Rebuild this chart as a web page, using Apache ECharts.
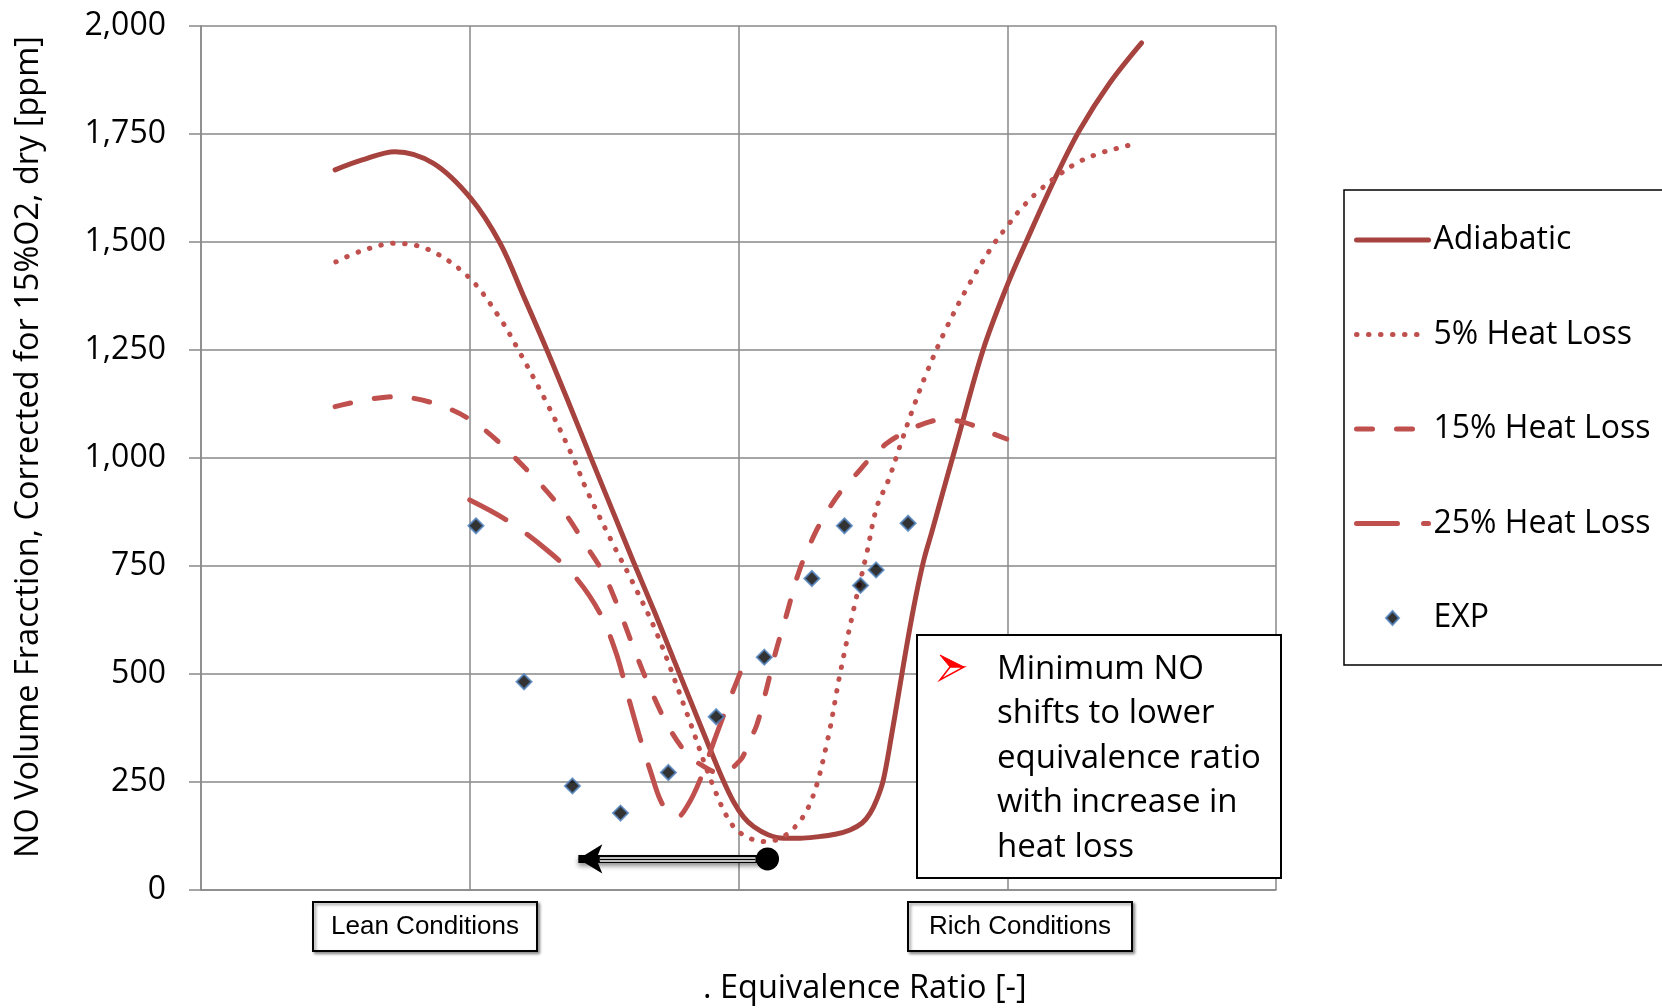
<!DOCTYPE html>
<html>
<head>
<meta charset="utf-8">
<title>NO vs Equivalence Ratio</title>
<script src="https://cdn.jsdelivr.net/npm/echarts@6/dist/echarts.min.js"></script>
<style>
    html, body { margin: 0; padding: 0; background: #fff; }
    #main { width: 1662px; height: 1008px; }
</style>
</head>
<body>
<div id="main"></div>
<script type="text/javascript">
    // values, x in grid units (4 columns), y in ppm
    var adiabatic = [[0.499, 1667], [0.60, 1690], [0.722, 1709], [0.865, 1682], [1.004, 1601], [1.113, 1497],
        [1.20, 1375], [1.287, 1250], [1.37, 1125], [1.448, 1005], [1.53, 880], [1.609, 760], [1.69, 640],
        [1.758, 535], [1.82, 440], [1.882, 345], [1.94, 258], [1.981, 205], [2.02, 168], [2.056, 147],
        [2.11, 128], [2.167, 120], [2.23, 120], [2.291, 123], [2.36, 129], [2.415, 139], [2.46, 155],
        [2.49, 178], [2.515, 210], [2.539, 255], [2.57, 360], [2.60, 470], [2.63, 580], [2.66, 680],
        [2.69, 765], [2.72, 830], [2.76, 920], [2.81, 1030], [2.91, 1250], [3.0, 1400], [3.07, 1500],
        [3.18, 1650], [3.27, 1760], [3.38, 1867], [3.50, 1961]];
    var loss5 = [[0.502, 1454], [0.60, 1480], [0.722, 1497], [0.852, 1481], [1.0, 1416], [1.113, 1323],
        [1.181, 1250], [1.287, 1127], [1.386, 999], [1.435, 926], [1.541, 791], [1.60, 720], [1.696, 594],
        [1.808, 409], [1.907, 239], [1.981, 147], [2.056, 116], [2.105, 112], [2.192, 135], [2.267, 201],
        [2.329, 340], [2.378, 501], [2.428, 648], [2.477, 779], [2.515, 887], [2.558, 949], [2.601, 1028],
        [2.645, 1107], [2.694, 1188], [2.766, 1291], [2.85, 1393], [2.943, 1489], [2.998, 1535],
        [3.054, 1579], [3.119, 1619], [3.191, 1655], [3.268, 1686], [3.352, 1707], [3.441, 1722], [3.485, 1730]];
    var loss15 = [[0.499, 1119], [0.722, 1142], [0.865, 1127], [1.004, 1088], [1.138, 1019], [1.336, 887],
        [1.435, 795], [1.50, 730], [1.56, 642], [1.615, 552], [1.675, 461], [1.742, 375], [1.808, 316],
        [1.863, 289], [1.932, 270], [2.006, 300], [2.037, 340], [2.068, 382], [2.10, 455], [2.137, 548],
        [2.18, 640], [2.224, 735], [2.285, 826], [2.341, 887], [2.385, 926], [2.44, 964], [2.49, 999],
        [2.552, 1034], [2.614, 1058], [2.688, 1079], [2.759, 1089], [2.843, 1082], [2.911, 1065], [2.998, 1044]];
    var loss25 = [[1.0, 903], [1.138, 856], [1.287, 787], [1.392, 725], [1.485, 640], [1.545, 548],
        [1.59, 447], [1.634, 351], [1.675, 270], [1.708, 210], [1.74, 178], [1.77, 168], [1.81, 195],
        [1.857, 255], [1.912, 350], [1.969, 444], [2.006, 502]];
    var expX = [1.023, 1.202, 1.382, 1.561, 1.739, 1.917, 2.096, 2.273, 2.394, 2.454, 2.512, 2.631];
    var expY = [843, 482, 241, 178, 272, 401, 539, 721, 843, 705, 741, 849];

    var seriesNames = ['Adiabatic', '5% Heat Loss', '15% Heat Loss', '25% Heat Loss', 'EXP'];
    var yTicks = [0, 250, 500, 750, 1000, 1250, 1500, 1750, 2000];

    // the "minimum shifts" arrow, in data units
    var arrowTail = [2.108, 72];
    var arrowTip = [1.404, 72];

    var FONT = '"Open Sans", "DejaVu Sans", sans-serif';
    var GRID_GRAY = '#898989';

    var myChart = echarts.init(document.getElementById('main'));

    var expData = expX.map(function (x, i) { return [x, expY[i]]; });

    function lineSeries(name, data, color, type) {
        return {
            name: name,
            type: 'line',
            data: data,
            symbol: 'none',
            smooth: 0.35,
            z: 3,
            lineStyle: { color: color, width: 5, type: type, cap: 'round' },
            itemStyle: { color: color }
        };
    }

    // line entries: hide the forced circle symbol; EXP: a small diamond centred in the icon box
    var legendData = seriesNames.map(function (n, i) {
        if (i < 4) return { name: n, itemStyle: { opacity: 0 } };
        return { name: n, icon: 'path://M0,7L0,7M36,0L42.5,7L36,14L29.5,7ZM72,7L72,7' };
    });

    var option = {
        animation: false,
        backgroundColor: '#fff',
        grid: { left: 201, right: 386, top: 26, bottom: 118 },
        legend: {
            orient: 'vertical',
            left: 1344,
            top: 190,
            padding: [34, 16, 31, 10],
            itemWidth: 72,
            itemHeight: 14,
            itemGap: 62.5,
            borderColor: '#000',
            borderWidth: 1.5,
            data: legendData,
            lineStyle: { width: 5 },
            textStyle: { fontFamily: FONT, fontSize: 32, color: '#000', lineHeight: 30 }
        },
        xAxis: {
            type: 'value',
            min: 0,
            max: 4,
            interval: 1,
            axisLine: { show: true, lineStyle: { color: GRID_GRAY, width: 1.5 } },
            axisTick: { show: false },
            axisLabel: { show: false },
            splitLine: { show: true, lineStyle: { color: GRID_GRAY, width: 1.5 } }
        },
        yAxis: {
            type: 'value',
            min: yTicks[0],
            max: yTicks[yTicks.length - 1],
            interval: 250,
            axisLine: { show: true, lineStyle: { color: GRID_GRAY, width: 1.5 } },
            axisTick: { show: true, length: 12, lineStyle: { color: GRID_GRAY, width: 1.5 } },
            axisLabel: {
                margin: 35,
                fontFamily: FONT,
                fontSize: 32,
                color: '#000',
                formatter: function (v) { return v.toLocaleString('en-US'); }
            },
            splitLine: { show: true, lineStyle: { color: GRID_GRAY, width: 1.5 } }
        },
        series: [
            lineSeries(seriesNames[0], adiabatic, '#A6433F', 'solid'),
            lineSeries(seriesNames[1], loss5, '#C0504D', [0.5, 11.5]),
            lineSeries(seriesNames[2], loss15, '#C0504D', [16, 24]),
            lineSeries(seriesNames[3], loss25, '#C0504D', [41, 26]),
            {
                name: seriesNames[4],
                type: 'scatter',
                data: expData,
                symbol: 'diamond',
                symbolSize: 15,
                z: 4,
                itemStyle: { color: '#000', borderColor: '#4F81BD', borderWidth: 2 },
                markLine: {
                    silent: true,
                    animation: false,
                    label: { show: false },
                    emphasis: { disabled: true },
                    data: [
                        [
                            { coord: arrowTail, symbol: 'circle', symbolSize: 23,
                              lineStyle: { color: '#000', width: 8, type: 'solid',
                                  shadowBlur: 5, shadowColor: 'rgba(0,0,0,0.45)', shadowOffsetY: 3 } },
                            { coord: arrowTip, symbol: 'arrow', symbolSize: [22, 24] }
                        ],
                        [
                            { coord: [arrowTail[0] - 0.045, arrowTail[1]], symbol: 'none',
                              lineStyle: { color: '#fff', width: 4.5, type: 'solid' } },
                            { coord: [arrowTip[0] + 0.08, arrowTip[1]], symbol: 'none' }
                        ],
                        [
                            { coord: [arrowTail[0] - 0.045, arrowTail[1]], symbol: 'none',
                              lineStyle: { color: '#000', width: 1.3, type: 'solid' } },
                            { coord: [arrowTip[0] + 0.08, arrowTip[1]], symbol: 'none' }
                        ]
                    ]
                }
            }
        ],
        graphic: [
            // y axis title
            {
                type: 'text', z: 101, x: 29, y: 447, rotation: Math.PI / 2,
                style: { text: 'NO Volume Fracction, Corrected for 15%O2, dry [ppm]', fill: '#000',
                    font: '32.5px ' + FONT, align: 'center', verticalAlign: 'middle' }
            },
            // Lean / Rich boxes under the axis
            {
                type: 'rect', z: 100,
                shape: { x: 313, y: 902, width: 224, height: 49 },
                style: { fill: '#fff', stroke: '#000', lineWidth: 2,
                    shadowBlur: 3, shadowColor: 'rgba(0,0,0,0.4)', shadowOffsetX: 2, shadowOffsetY: 2 }
            },
            {
                type: 'text', z: 101, x: 425, y: 927,
                style: { text: 'Lean Conditions', fill: '#000', font: '26px "Liberation Sans", Arial, sans-serif',
                    align: 'center', verticalAlign: 'middle' }
            },
            {
                type: 'rect', z: 100,
                shape: { x: 908, y: 902, width: 224, height: 49 },
                style: { fill: '#fff', stroke: '#000', lineWidth: 2,
                    shadowBlur: 3, shadowColor: 'rgba(0,0,0,0.4)', shadowOffsetX: 2, shadowOffsetY: 2 }
            },
            {
                type: 'text', z: 101, x: 1020, y: 927,
                style: { text: 'Rich Conditions', fill: '#000', font: '26px "Liberation Sans", Arial, sans-serif',
                    align: 'center', verticalAlign: 'middle' }
            },
            // x axis title
            {
                type: 'text', z: 101, x: 703, y: 989,
                style: { text: '. Equivalence Ratio [-]', fill: '#000', font: '32.5px ' + FONT,
                    align: 'left', verticalAlign: 'middle' }
            },
            // note box
            {
                type: 'rect', z: 100,
                shape: { x: 917, y: 635, width: 364, height: 243 },
                style: { fill: '#fff', stroke: '#000', lineWidth: 2 }
            },
            {
                type: 'polygon', z: 101,
                shape: { points: [[940, 655], [964, 667], [950, 667]] },
                style: { fill: '#FF0000', stroke: '#FF0000', lineWidth: 1 }
            },
            {
                type: 'polygon', z: 101,
                shape: { points: [[950, 667], [964, 667], [940, 680]] },
                style: { fill: '#fff', stroke: '#FF0000', lineWidth: 1.5 }
            },
            {
                type: 'text', z: 101, x: 997, y: 647,
                style: {
                    text: 'Minimum NO\nshifts to lower\nequivalence ratio\nwith increase in\nheat loss',
                    fill: '#000', font: '33px ' + FONT, lineHeight: 44.5,
                    align: 'left', verticalAlign: 'top'
                }
            }
        ]
    };

    myChart.setOption(option);
</script>
</body>
</html>
